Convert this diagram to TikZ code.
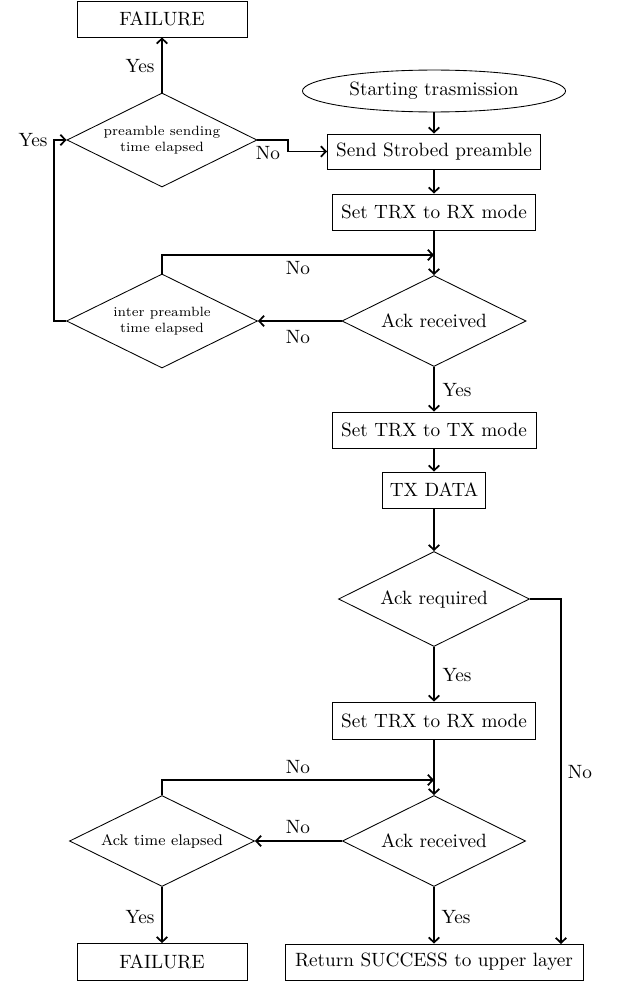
\documentclass[tikz,border=0pt]{standalone}
\usetikzlibrary{shapes.geometric,arrows.meta}
\begin{document}
\begin{tikzpicture}[x=0.52pt,y=-0.52pt,
  box/.style={draw,line width=0.45pt,rectangle,inner sep=0pt},
  dia/.style={draw,line width=0.45pt,diamond,aspect=2,inner sep=0pt,align=center},
  oval/.style={draw,line width=0.45pt,ellipse,inner sep=0pt},
  arr/.style={line width=0.9pt,-{Straight Barb[length=2.6pt,width=5.5pt]}},
  ln/.style={line width=0.9pt},
  lbl/.style={inner sep=0pt}]
\useasboundingbox (0,0) rectangle (616,985);
% nodes
\node[box,minimum width=88.4pt,minimum height=18.7pt] (fail1) at (162,19) {FAILURE};
\node[dia,minimum width=98.8pt,minimum height=48.9pt,font=\scriptsize] (dec1) at (162,140) {preamble sending\\time elapsed};
\node[oval,minimum width=136.8pt,minimum height=21.8pt] (start) at (434,91) {Starting trasmission};
\node[box,minimum width=110.8pt,minimum height=18.2pt] (send) at (434,151.5) {Send Strobed preamble};
\node[box,minimum width=105.6pt,minimum height=18.7pt] (rx1) at (434,212) {Set TRX to RX mode};
\node[dia,minimum width=95.7pt,minimum height=47.3pt] (ack1) at (434,321) {Ack received};
\node[dia,minimum width=99.3pt,minimum height=48.9pt,font=\scriptsize] (dec2) at (162,321) {inter preamble\\time elapsed};
\node[box,minimum width=106.1pt,minimum height=18.7pt] (tx) at (434,430) {Set TRX to TX mode};
\node[box,minimum width=53.6pt,minimum height=18.7pt] (data) at (434,490) {TX DATA};
\node[dia,minimum width=99.3pt,minimum height=49.4pt] (req) at (434,599) {Ack required};
\node[box,minimum width=105.6pt,minimum height=19.2pt] (rx2) at (434,720.5) {Set TRX to RX mode};
\node[dia,minimum width=95.2pt,minimum height=47.3pt] (ack2) at (434,841) {Ack received};
\node[dia,minimum width=96.2pt,minimum height=47.3pt,font=\footnotesize] (dec3) at (162,841) {Ack time elapsed};
\node[box,minimum width=88.4pt,minimum height=19.2pt] (fail2) at (162,962) {FAILURE};
\node[box,minimum width=155pt,minimum height=18.7pt] (succ) at (434,962) {Return SUCCESS to upper layer};
% junction coordinates
\coordinate (j1) at (434,255);
\coordinate (j2) at (434,780);
% connectors
\draw[arr] (dec1.north) -- (fail1.south);
\node[lbl] (y1) at (140,66) {Yes};
\draw[arr] (dec1.east) -- (288,140) |- (send.west);
\node[lbl] (n1) at (268,153) {No};
\draw[arr] (start.south) -- (send.north);
\draw[arr] (send.south) -- (rx1.north);
\draw[arr] (rx1.south) -- (ack1.north);
\draw[arr] (dec2.north) |- (j1);
\node[lbl] (n2) at (298,268) {No};
\draw[arr] (ack1.west) -- (dec2.east);
\node[lbl] (n3) at (298,337) {No};
\draw[arr] (dec2.west) -- (54,321) |- (dec1.west);
\node[lbl] (y2) at (33,140) {Yes};
\draw[arr] (ack1.south) -- (tx.north);
\node[lbl] (y3) at (457,390) {Yes};
\draw[arr] (tx.south) -- (data.north);
\draw[arr] (data.south) -- (req.north);
\draw[arr] (req.east) -| (561,944) coordinate (se);
\node[lbl] (n4) at (580,772) {No};
\draw[arr] (req.south) -- (rx2.north);
\node[lbl] (y4) at (457,675) {Yes};
\draw[arr] (rx2.south) -- (ack2.north);
\draw[arr] (dec3.north) |- (j2);
\node[lbl] (n5) at (298,767) {No};
\draw[arr] (ack2.west) -- (dec3.east);
\node[lbl] (n6) at (298,827) {No};
\draw[arr] (dec3.south) -- (fail2.north);
\node[lbl] (y5) at (140,917) {Yes};
\draw[arr] (ack2.south) -- (succ.north);
\node[lbl] (y6) at (456,917) {Yes};
\end{tikzpicture}
\end{document}
